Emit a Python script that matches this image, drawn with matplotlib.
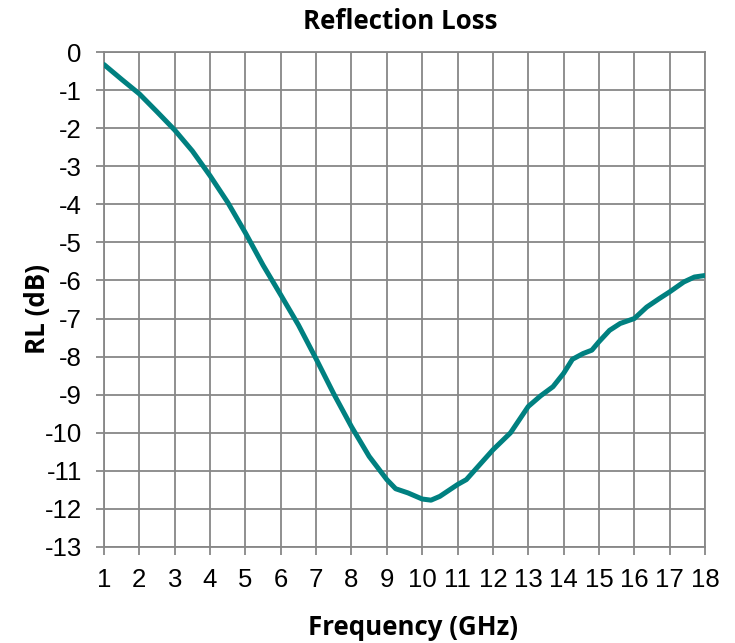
import matplotlib
matplotlib.use("Agg")
import matplotlib.pyplot as plt

plt.rcParams["axes.unicode_minus"] = False

freq_ghz = [1.0, 1.5, 2.0, 2.5, 3.0, 3.5, 4.0, 4.5, 5.0, 5.5, 6.0, 6.5, 7.0,
            7.5, 8.0, 8.5, 9.0, 9.25, 9.6, 10.0, 10.25, 10.5, 11.0, 11.25, 11.5,
            12.0, 12.5, 13.0, 13.35, 13.7, 14.0, 14.25, 14.55, 14.8, 15.0, 15.3,
            15.6, 16.0, 16.35, 16.7, 17.0, 17.4, 17.7, 18.0]
rl_db = [-0.33, -0.72, -1.1, -1.57, -2.05, -2.6, -3.25, -3.95, -4.75, -5.6, -6.38,
         -7.17, -8.06, -8.98, -9.84, -10.62, -11.23, -11.47, -11.58, -11.74,
         -11.77, -11.67, -11.36, -11.23, -10.97, -10.45, -10.0, -9.31, -9.03,
         -8.79, -8.44, -8.07, -7.92, -7.83, -7.61, -7.31, -7.13, -7.0, -6.7,
         -6.48, -6.3, -6.04, -5.91, -5.87]
x_ticks = list(range(1, 19))
y_ticks = list(range(-13, 1))

title = "Reflection Loss"
x_label = "Frequency (GHz)"
y_label = "RL (dB)"

W, H = 735, 643
fig = plt.figure(figsize=(W / 100, H / 100), dpi=100)
ax = fig.add_axes([104 / W, 1 - 547 / H, (705 - 104) / W, (547 - 52) / H])

grid_c = "#878787"
ax.plot(freq_ghz, rl_db, color="#008080", lw=3.6, solid_capstyle="round",
        solid_joinstyle="round", zorder=3)
ax.set_xlim(1, 18)
ax.set_ylim(-13, 0)
ax.set_xticks(x_ticks)
ax.set_yticks(y_ticks)
ax.grid(True, color=grid_c, lw=1.3)
for s in ax.spines.values():
    s.set_color(grid_c)
    s.set_linewidth(1.3)
ax.tick_params(axis="both", length=6, width=1.3, color=grid_c,
               labelsize=18.5, labelcolor="black")
ax.tick_params(axis="x", pad=9)
ax.tick_params(axis="y", pad=10)
for lbl in ax.get_xticklabels() + ax.get_yticklabels():
    lbl.set_family("Liberation Sans")

lab_font = dict(fontsize=18.6, fontweight="bold", family="Open Sans")
fig.text(400 / W, 1 - 29 / H, title, ha="center", va="baseline", **lab_font)
fig.text(413 / W, 1 - 635 / H, x_label, ha="center", va="baseline", **lab_font)
fig.text(45 / W, 1 - 309 / H, y_label, ha="center", va="baseline", rotation=90,
         rotation_mode="anchor", **lab_font)

fig.savefig("out.png", dpi=100)
